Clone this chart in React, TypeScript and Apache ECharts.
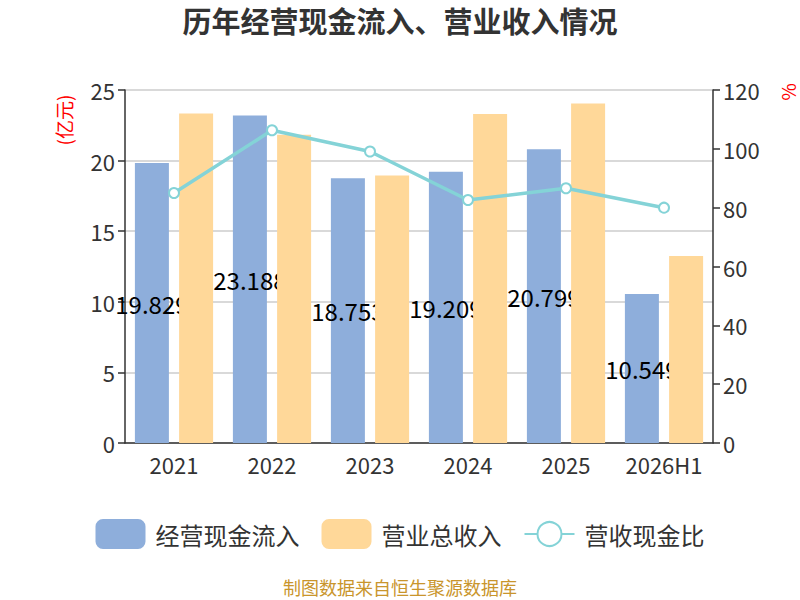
import React, { useEffect, useRef } from "react";
import * as echarts from "echarts";

const categories = ["2021", "2022", "2023", "2024", "2025", "2026H1"];
const cashInflow = [19.829, 23.188, 18.753, 19.209, 20.799, 10.549];
const revenue = [23.34, 21.83, 18.94, 23.3, 24.04, 13.24];
const ratio = [85.0, 106.3, 99.1, 82.6, 86.6, 80.0];
const leftTicks = { min: 0, max: 25, interval: 5 };
const rightTicks = { min: 0, max: 120, interval: 20 };

const FONT = "'Noto Sans CJK SC', 'Noto Sans', sans-serif";

export default function App() {
  const ref = useRef<HTMLDivElement>(null);
  useEffect(() => {
    if (!ref.current) return;
    const chart = echarts.init(ref.current, undefined, { renderer: "svg" });
    chart.setOption({
      animation: false,
      textStyle: { fontFamily: FONT },
      title: {
        text: "历年经营现金流入、营业收入情况",
        left: "center",
        top: 0,
        textStyle: { fontSize: 29, fontWeight: "bold", color: "#333", fontFamily: FONT },
      },
      grid: { left: 125, right: 87, top: 90, bottom: 157 },
      legend: {
        bottom: 46,
        left: "center",
        itemWidth: 50,
        itemHeight: 30,
        itemGap: 22,
        textStyle: { fontSize: 24, color: "#333", fontFamily: FONT, padding: [0, 0, 0, 5] },
        data: [
          { name: "经营现金流入", icon: "roundRect" },
          { name: "营业总收入", icon: "roundRect" },
          { name: "营收现金比" },
        ],
      },
      graphic: [
        {
          type: "text",
          x: 63,
          y: 120,
          rotation: Math.PI / 2,
          style: {
            text: "(亿元)",
            fill: "#ff0000",
            fontSize: 19,
            fontFamily: FONT,
            align: "center",
            verticalAlign: "middle",
          },
        },
        {
          type: "text",
          x: 787,
          y: 92,
          rotation: Math.PI / 2,
          style: {
            text: "%",
            fill: "#ff0000",
            fontSize: 19,
            fontFamily: FONT,
            align: "center",
            verticalAlign: "middle",
          },
        },
        {
          type: "text",
          x: 400,
          y: 587,
          style: {
            text: "制图数据来自恒生聚源数据库",
            fill: "#c9952c",
            fontSize: 18,
            fontFamily: FONT,
            align: "center",
            verticalAlign: "middle",
          },
        },
      ],
      xAxis: {
        type: "category",
        data: categories,
        axisLine: { lineStyle: { color: "#333", width: 1.5 } },
        axisTick: { length: 7, lineStyle: { color: "#333", width: 1.5 } },
        axisLabel: { fontSize: 22, color: "#333", margin: 10, interval: 0, fontFamily: FONT },
      },
      yAxis: [
        {
          type: "value",
          ...leftTicks,
          axisLine: { show: true, lineStyle: { color: "#333", width: 1.5 } },
          axisTick: { show: true, length: 7, lineStyle: { color: "#333", width: 1.5 } },
          axisLabel: { fontSize: 22, color: "#333", margin: 10, fontFamily: FONT },
          splitLine: { show: true, lineStyle: { color: "#ccc", width: 1.5 } },
        },
        {
          type: "value",
          ...rightTicks,
          axisLine: { show: true, lineStyle: { color: "#333", width: 1.5 } },
          axisTick: { show: true, length: 7, lineStyle: { color: "#333", width: 1.5 } },
          axisLabel: { fontSize: 22, color: "#333", margin: 10, fontFamily: FONT },
          splitLine: { show: false },
        },
      ],
      series: [
        {
          name: "经营现金流入",
          type: "bar",
          data: cashInflow,
          z: 2,
          barWidth: 34,
          barGap: "30%",
          itemStyle: { color: "#8eaedb" },
          label: {
            show: true,
            position: "inside",
            color: "#000",
            fontSize: 24,
            fontFamily: FONT,
          },
        },
        {
          name: "营业总收入",
          type: "bar",
          data: revenue,
          z: 3,
          barWidth: 34,
          barGap: "30%",
          itemStyle: { color: "#ffd899" },
        },
        {
          name: "营收现金比",
          type: "line",
          yAxisIndex: 1,
          data: ratio,
          z: 5,
          symbol: "emptyCircle",
          symbolSize: 10,
          lineStyle: { color: "#84d3d7", width: 3.5 },
          itemStyle: { color: "#84d3d7", borderWidth: 2 },
        },
      ],
    });
    return () => chart.dispose();
  }, []);
  return (
    <div
      ref={ref}
      style={{ width: 800, height: 600, position: "absolute", left: 0, top: 0 }}
    />
  );
}
